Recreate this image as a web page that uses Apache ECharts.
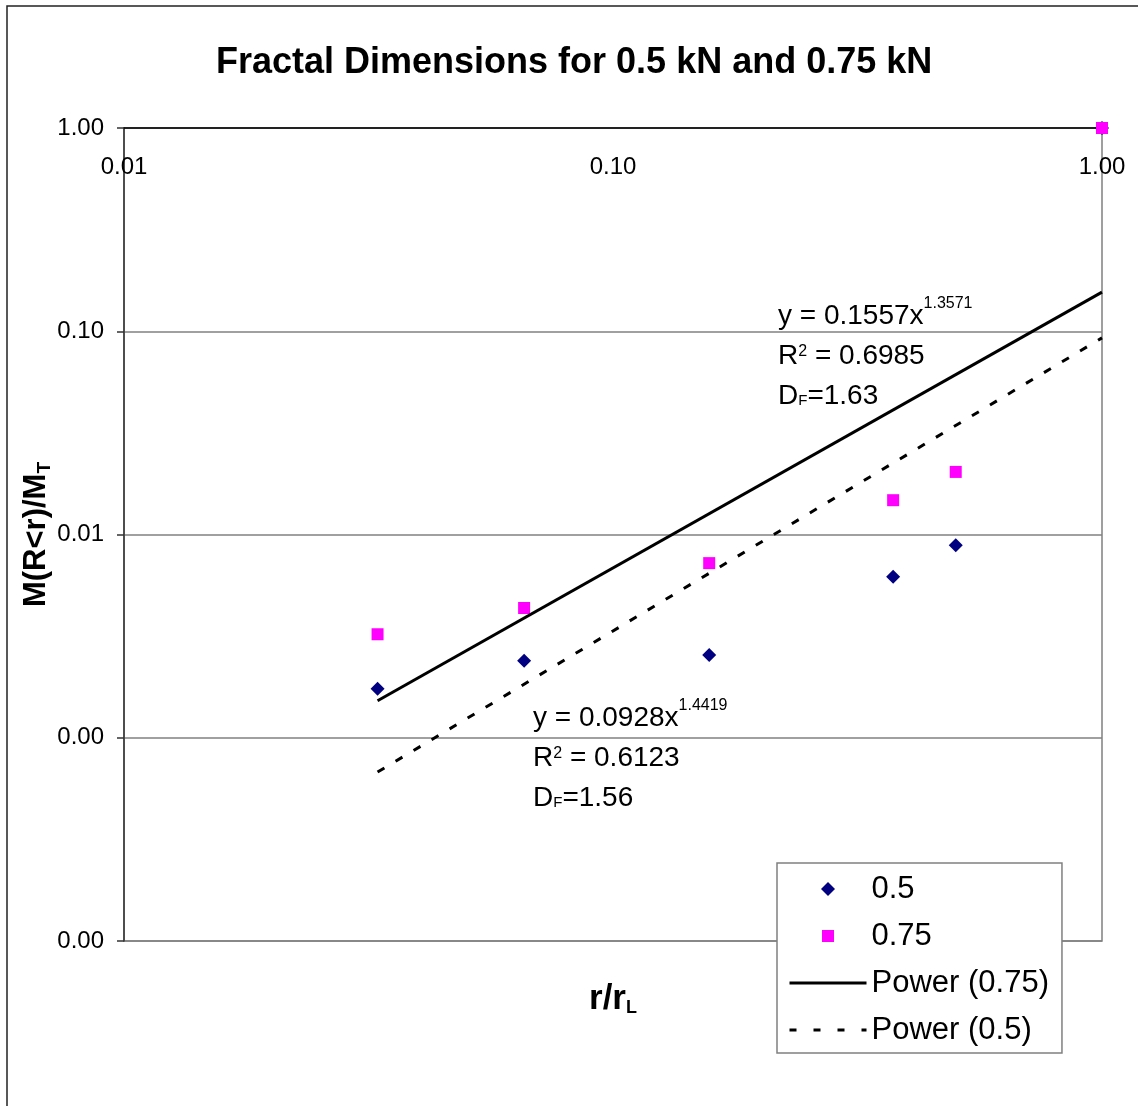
<!DOCTYPE html>
<html>
<head>
<meta charset="utf-8">
<title>Fractal Dimensions</title>
<script src="https://cdn.jsdelivr.net/npm/echarts@6/dist/echarts.min.js"></script>
<style>
html, body { margin: 0; padding: 0; background: #fff; }
#main { width: 1138px; height: 1106px; }
</style>
</head>
<body>
<div id="main"></div>
<script>
var FONT = '"Liberation Sans", Arial, sans-serif';

// r/rL values for both loads
var rRatio = [0.0330, 0.0658, 0.1573, 0.3740, 0.5022, 1.0];
// M(R<r)/MT
var mass05 = [0.00174, 0.00239, 0.00255, 0.00619, 0.00886, 1.0];
var mass075 = [0.00323, 0.00435, 0.00723, 0.01475, 0.02032, 1.0];

// power trendline end points
var trendX = [0.0330, 1.0];
var trend075 = [0.00152, 0.1557];
var trend05 = [0.000678, 0.0928];

var xTicks = [0.01, 0.1, 1];
var yTicks = [0.0001, 0.001, 0.01, 0.1, 1];

function pairs(xs, ys) {
    var out = [];
    for (var i = 0; i < xs.length; i++) out.push([xs[i], ys[i]]);
    return out;
}

// legend icons drawn in the full 77x14 item box so they are not stretched
var diamondIcon = 'path://M0,0M77,14M31.5,7L38.5,0L45.5,7L38.5,14Z';
var squareIcon = 'path://M0,0M77,14M32.5,1L44.5,1L44.5,13L32.5,13Z';
var hideDot = { color: 'rgba(0,0,0,0)', borderWidth: 0 };

var option = {
    animation: false,
    backgroundColor: '#fff',
    textStyle: { fontFamily: FONT },
    title: {
        text: 'Fractal Dimensions for 0.5 kN and 0.75 kN',
        left: 211,
        top: 40,
        textStyle: { fontSize: 36, fontWeight: 'bold', color: '#000', fontFamily: FONT }
    },
    grid: {
        left: 124,
        right: 36,
        top: 128,
        bottom: 165,
        show: true,
        borderColor: '#808080',
        borderWidth: 1.5,
        backgroundColor: '#fff'
    },
    legend: {
        orient: 'vertical',
        left: 777,
        top: 863,
        padding: [8, 13, 5, 11],
        itemGap: 11,
        itemWidth: 77,
        itemHeight: 14,
        backgroundColor: '#fff',
        borderColor: '#808080',
        borderWidth: 1.5,
        textStyle: { fontSize: 31, lineHeight: 36, color: '#000', fontFamily: FONT },
        data: [
            { name: '0.5', icon: diamondIcon },
            { name: '0.75', icon: squareIcon },
            { name: 'Power (0.75)', itemStyle: hideDot, lineStyle: { width: 3 } },
            { name: 'Power (0.5)', itemStyle: hideDot, lineStyle: { width: 3, type: [7, 17] } }
        ]
    },
    xAxis: [{
        type: 'log',
        logBase: 10,
        min: xTicks[0],
        max: xTicks[xTicks.length - 1],
        position: 'top',
        axisLine: { lineStyle: { color: '#000', width: 1.5 } },
        axisTick: { show: false },
        axisLabel: {
            inside: true,
            margin: 27,
            fontSize: 24,
            color: '#000',
            fontFamily: FONT,
            formatter: function (v) { return v.toFixed(2); }
        },
        splitLine: { show: false }
    }, {
        type: 'log',
        logBase: 10,
        min: xTicks[0],
        max: xTicks[xTicks.length - 1],
        position: 'bottom',
        axisLine: { show: false },
        axisTick: { show: false },
        axisLabel: { show: false },
        splitLine: { show: false },
        name: '{a|r/r}{b|L}',
        nameLocation: 'middle',
        nameGap: 40,
        nameMoveOverlap: false,
        nameTextStyle: {
            rich: {
                a: { fontSize: 35, fontWeight: 'bold', lineHeight: 36, color: '#000', fontFamily: FONT },
                b: { fontSize: 18, fontWeight: 'bold', lineHeight: 17, verticalAlign: 'bottom', color: '#000', fontFamily: FONT }
            }
        }
    }],
    yAxis: {
        type: 'log',
        logBase: 10,
        min: yTicks[0],
        max: yTicks[yTicks.length - 1],
        axisLine: { lineStyle: { color: '#333', width: 1.5 } },
        axisTick: { show: true, length: 7, lineStyle: { color: '#333', width: 1.5 } },
        axisLabel: {
            margin: 20,
            fontSize: 24,
            color: '#000',
            fontFamily: FONT,
            formatter: function (v) { return v.toFixed(2); }
        },
        splitLine: { show: true, lineStyle: { color: '#808080', width: 1.5 } },
        name: '{a|M(R<r)/M}{b|T}',
        nameLocation: 'middle',
        nameRotate: 90,
        nameGap: 70,
        nameMoveOverlap: false,
        nameTextStyle: {
            rich: {
                a: { fontSize: 31, fontWeight: 'bold', lineHeight: 36, color: '#000', fontFamily: FONT },
                b: { fontSize: 19, fontWeight: 'bold', lineHeight: 30, verticalAlign: 'bottom', color: '#000', fontFamily: FONT }
            }
        }
    },
    graphic: [{
        type: 'rect',
        shape: { x: 7, y: 6, width: 1300, height: 1300 },
        style: { fill: null, stroke: '#222', lineWidth: 1.5 },
        silent: true,
        z: 100
    }, {
        type: 'text',
        x: 778,
        y: 296,
        z: 50,
        style: {
            text: '{n|y = 0.1557x}{e|1.3571}\n{n|R}{e2|2}{n| = 0.6985}\n{n|D}{f|F}{n|=1.63}',
            rich: null
        }
    }, {
        type: 'text',
        x: 533,
        y: 698,
        z: 50,
        style: {
            text: '{n|y = 0.0928x}{e|1.4419}\n{n|R}{e2|2}{n| = 0.6123}\n{n|D}{f|F}{n|=1.56}',
            rich: null
        }
    }],
    series: [{
        name: '0.5',
        type: 'scatter',
        symbol: 'diamond',
        symbolSize: 14,
        itemStyle: { color: '#000080', opacity: 1 },
        data: pairs(rRatio, mass05)
    }, {
        name: '0.75',
        type: 'scatter',
        symbol: 'rect',
        symbolSize: 12,
        itemStyle: { color: '#FF00FF', opacity: 1 },
        data: pairs(rRatio, mass075)
    }, {
        name: 'Power (0.75)',
        type: 'line',
        symbol: 'none',
        lineStyle: { color: '#000', width: 3, type: 'solid' },
        itemStyle: { color: '#000' },
        data: pairs(trendX, trend075)
    }, {
        name: 'Power (0.5)',
        type: 'line',
        symbol: 'none',
        lineStyle: { color: '#000', width: 3, type: [8, 13] },
        itemStyle: { color: '#000' },
        data: pairs(trendX, trend05)
    }]
};

// rich styles shared by both trendline annotations
var annoRich = {
    n: { fontSize: 28, lineHeight: 40, color: '#000', fontFamily: FONT },
    e: { fontSize: 16, verticalAlign: 'top', color: '#000', fontFamily: FONT },
    e2: { fontSize: 16, padding: [0, 0, 8, 0], color: '#000', fontFamily: FONT },
    f: { fontSize: 15, padding: [10, 0, 0, 0], color: '#000', fontFamily: FONT }
};
option.graphic[1].style.rich = annoRich;
option.graphic[2].style.rich = annoRich;

var chart = echarts.init(document.getElementById('main'));
chart.setOption(option);
</script>
</body>
</html>
